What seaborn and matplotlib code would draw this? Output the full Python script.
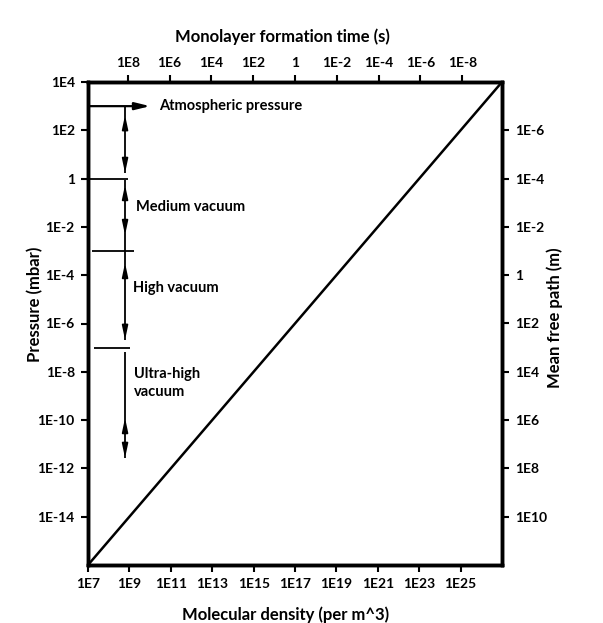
import matplotlib
matplotlib.use("Agg")
import matplotlib.pyplot as plt
import seaborn as sns
import numpy as np
import pandas as pd

# ---- data ----
density = [1e7, 1e27]            # molecules per m^3
pressure = [1e-16, 1e4]          # mbar

bottom_ticks = [1e7, 1e9, 1e11, 1e13, 1e15, 1e17, 1e19, 1e21, 1e23, 1e25]
bottom_labels = ["1E7", "1E9", "1E11", "1E13", "1E15", "1E17", "1E19", "1E21", "1E23", "1E25"]

left_ticks = [1e4, 1e2, 1, 1e-2, 1e-4, 1e-6, 1e-8, 1e-10, 1e-12, 1e-14]
left_labels = ["1E4", "1E2", "1", "1E-2", "1E-4", "1E-6", "1E-8", "1E-10", "1E-12", "1E-14"]

top_ticks = [1e8, 1e6, 1e4, 1e2, 1, 1e-2, 1e-4, 1e-6, 1e-8]
top_labels = ["1E8", "1E6", "1E4", "1E2", "1", "1E-2", "1E-4", "1E-6", "1E-8"]
top_limits = [10**9.9, 10**-9.9]

right_ticks = [1e-6, 1e-4, 1e-2, 1, 1e2, 1e4, 1e6, 1e8, 1e10]
right_labels = ["1E-6", "1E-4", "1E-2", "1", "1E2", "1E4", "1E6", "1E8", "1E10"]
right_limits = [1e12, 1e-8]

# vacuum range boundaries (mbar)
atm_pressure = 1e3
range_bounds = [1, 1e-3, 1e-7]
range_names = ["Medium vacuum", "High vacuum", "Ultra-high\nvacuum"]
range_label_p = [10**-1.18, 10**-4.53, 10**-8.46]

df = pd.DataFrame({"density": density, "pressure": pressure})

sns.set_style("white")
plt.rcParams["font.family"] = ["Lato", "DejaVu Sans"]
plt.rcParams["font.weight"] = "bold"
plt.rcParams["text.color"] = "black"
plt.rcParams["axes.labelcolor"] = "black"
plt.rcParams["xtick.color"] = "black"
plt.rcParams["ytick.color"] = "black"

fig = plt.figure(figsize=(6.03, 6.23), dpi=100)
ax = fig.add_axes([88/603, 1-565/623, 414/603, 483/623])

sns.lineplot(data=df, x="density", y="pressure", ax=ax, color="black", lw=1.8)
ax.set_xscale("log")
ax.set_yscale("log")
ax.set_xlim(1e7, 1e27)
ax.set_ylim(1e-16, 1e4)

ax.set_xticks(bottom_ticks)
ax.set_xticklabels(bottom_labels)
ax.set_yticks(left_ticks)
ax.set_yticklabels(left_labels)
ax.minorticks_off()

tick_kw = dict(length=5, width=1.5, colors="black", labelsize=10, pad=4.5, direction="out")
ax.tick_params(axis="both", which="major", **tick_kw)
ax.tick_params(axis="both", which="minor", length=0)

lab_kw = dict(fontsize=12, fontweight="bold", va="center", color="black")
ax.set_xlabel("Molecular density (per m^3)", **lab_kw)
ax.xaxis.set_label_coords(0.478, -0.1035)
ax.set_ylabel("Pressure (mbar)", **lab_kw)
ax.yaxis.set_label_coords(-0.128, 0.539)

# top axis: monolayer formation time
ax_top = ax.twiny()
ax_top.set_xscale("log")
ax_top.set_xlim(*top_limits)
ax_top.set_xticks(top_ticks)
ax_top.set_xticklabels(top_labels)
ax_top.minorticks_off()
ax_top.tick_params(axis="x", which="major", **tick_kw)
ax_top.tick_params(axis="x", which="minor", length=0)
ax_top.set_xlabel("Monolayer formation time (s)", **lab_kw)
ax_top.xaxis.set_label_coords(0.469, 1.093)

# right axis: mean free path
ax_right = ax.twinx()
ax_right.set_yscale("log")
ax_right.set_ylim(*right_limits)
ax_right.set_yticks(right_ticks)
ax_right.set_yticklabels(right_labels)
ax_right.minorticks_off()
ax_right.tick_params(axis="y", which="major", **tick_kw)
ax_right.tick_params(axis="y", which="minor", length=0)
ax_right.set_ylabel("Mean free path (m)", **lab_kw)
ax_right.yaxis.set_label_coords(1.128, 0.511)

for a in (ax, ax_top, ax_right):
    for s in a.spines.values():
        s.set_linewidth(2.4)
        s.set_color("black")

# ---- vacuum range annotations ----
xv = 10**8.79  # vertical arrow column
lk = dict(color="black", lw=1.3, solid_capstyle="butt")

# atmospheric pressure line with arrow
ax.annotate("", xy=(10**10.0, atm_pressure), xytext=(10**7.05, atm_pressure),
            arrowprops=dict(arrowstyle="-|>,head_length=0.9,head_width=0.22",
                            color="black", lw=1.6, shrinkA=0, shrinkB=0))
ax.text(10**10.45, atm_pressure, "Atmospheric pressure", fontsize=10.5,
        fontweight="bold", va="center", ha="left")

# boundary lines
bound_x = [(10**7.0, 10**8.93), (10**7.19, 10**9.22), (10**7.29, 10**9.03)]
for p, (x0, x1) in zip(range_bounds, bound_x):
    ax.plot([x0, x1], [p, p], **lk)

# vertical segments
segs = [(10**2.965, 10**0.23), (10**-0.06, 10**-6.68), (10**-7.18, 10**-11.57)]
for p0, p1 in segs:
    ax.plot([xv, xv], [p0, p1], **lk)

# arrowheads (tip exponent, direction)
heads = [(2.63, 1), (0.23, -1), (-0.26, 1), (-2.34, -1),
         (-3.49, 1), (-6.68, -1), (-9.91, 1), (-11.57, -1)]
for e, d in heads:
    tail = e - d * 0.55
    ax.annotate("", xy=(xv, 10**e), xytext=(xv, 10**tail),
                arrowprops=dict(arrowstyle="-|>,head_length=0.8,head_width=0.17",
                                color="black", lw=1.3, shrinkA=0, shrinkB=0))

label_x = [10**9.34, 10**9.19, 10**9.24]
for name, p, x in zip(range_names, range_label_p, label_x):
    ax.text(x, p, name, fontsize=10.5, fontweight="bold", va="center", ha="left",
            linespacing=1.4)

fig.savefig("out.png", dpi=100)
